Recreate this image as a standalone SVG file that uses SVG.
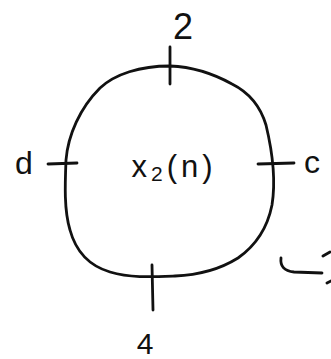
<svg xmlns="http://www.w3.org/2000/svg" width="331" height="359" viewBox="0 0 331 359">
<style>
.ln{fill:none;stroke:#111;stroke-width:2.8;stroke-linecap:round;stroke-linejoin:round}
.lb{font-family:"Liberation Sans",Arial,sans-serif;fill:#111}
</style>
<rect width="331" height="359" fill="#fff"/>
<g id="node-x2n">
<path class="ln" d="M170,66 C140,66 115,74 100,88 C80,108 68,135 66,160 C65,185 64,210 70,230 C76,252 90,266 110,272 C130,278 150,277 175,276 C200,275 222,268 238,258 C258,244 268,225 272,205 C276,180 272,150 266,125 C260,105 248,92 232,84 C214,74 195,67 170,66 Z"/>
<text class="lb" x="174" y="177" font-size="31" text-anchor="middle" letter-spacing="4">x<tspan font-size="21" dy="4">2</tspan><tspan dy="-4">(n)</tspan></text>
</g>
<g id="connectors">
<path class="ln" d="M170,47 L170,84"/>
<path class="ln" d="M48,164 L77,163"/>
<path class="ln" d="M258,164 L294,163"/>
<path class="ln" d="M152,265 L153,310"/>
<path class="ln" d="M281,258 C280,266 284,271 294,272 L322,273"/>
<path class="ln" d="M323,256 L330,252"/>
<path class="ln" d="M327,283 L331,281"/>
</g>
<g id="labels">
<text class="lb" x="183" y="39" font-size="36" text-anchor="middle">2</text>
<text class="lb" x="24" y="174" font-size="32" text-anchor="middle">d</text>
<text class="lb" x="312" y="173" font-size="32" text-anchor="middle">c</text>
<text class="lb" x="145" y="354" font-size="30" text-anchor="middle">4</text>
</g>
</svg>
